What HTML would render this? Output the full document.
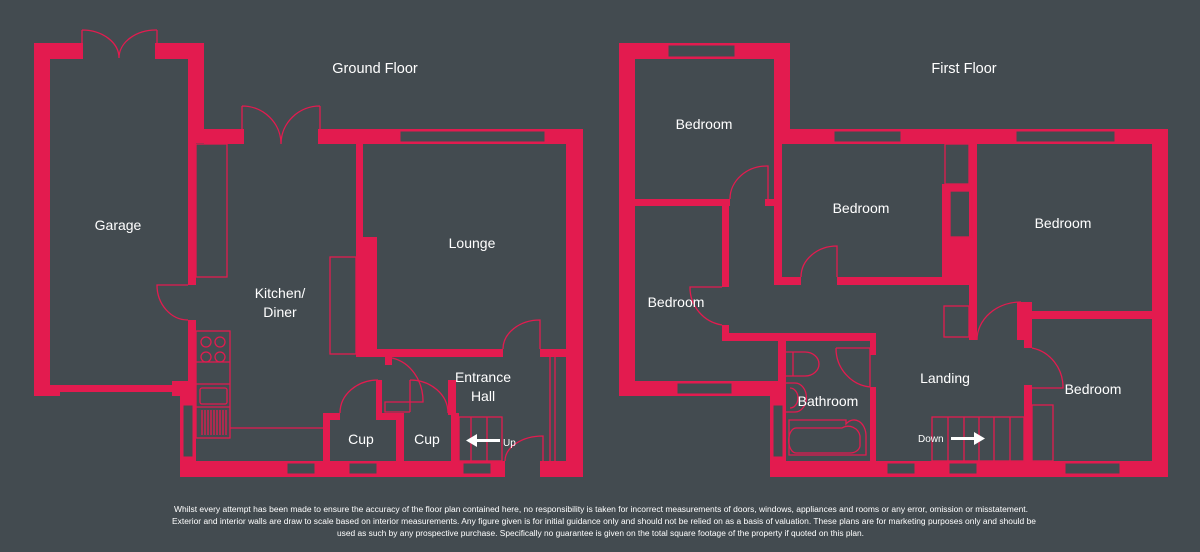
<!DOCTYPE html>
<html><head><meta charset="utf-8"><style>
html,body{margin:0;padding:0;background:#434b50;}
svg{display:block}
text{font-family:"Liberation Sans",sans-serif;fill:#fff}
</style></head><body>
<svg width="1200" height="552" viewBox="0 0 1200 552" xmlns="http://www.w3.org/2000/svg">
<rect width="1200" height="552" fill="#434b50"/>
<g fill="#e31b4f">
<!-- GROUND FLOOR -->
<rect x="34" y="43" width="16" height="353"/>
<rect x="34" y="43" width="49" height="16"/>
<rect x="155" y="43" width="49" height="16"/>
<rect x="188" y="43" width="16" height="100"/>
<rect x="188" y="129" width="8" height="156"/>
<rect x="188" y="320" width="8" height="72"/>
<rect x="34" y="385" width="162" height="7"/>
<rect x="34" y="385" width="26" height="11"/>
<rect x="172" y="381" width="24" height="15"/>
<rect x="180" y="385" width="16" height="92"/>
<rect x="204" y="129" width="40" height="15"/>
<rect x="318" y="129" width="265" height="15"/>
<rect x="566" y="129" width="17" height="348"/>
<rect x="180" y="461" width="325" height="16"/>
<rect x="540" y="461" width="43" height="16"/>
<rect x="356" y="144" width="7" height="213"/>
<rect x="356" y="237" width="21" height="120"/>
<rect x="356" y="349" width="147" height="8"/>
<rect x="540" y="349" width="43" height="8"/>
<rect x="385" y="357" width="7" height="8"/>
<rect x="323" y="413" width="7" height="48"/>
<rect x="323" y="413" width="17" height="7"/>
<rect x="376" y="380" width="6" height="40"/>
<rect x="376" y="413" width="20" height="7"/>
<rect x="396" y="413" width="8" height="48"/>
<rect x="451" y="413" width="8" height="48"/>
<rect x="448" y="380" width="8" height="35"/>
<!-- FIRST FLOOR -->
<rect x="619" y="43" width="16" height="353"/>
<rect x="619" y="43" width="171" height="16"/>
<rect x="774" y="43" width="16" height="101"/>
<rect x="774" y="129" width="394" height="15"/>
<rect x="1152" y="129" width="16" height="348"/>
<rect x="770" y="461" width="398" height="16"/>
<rect x="619" y="381" width="167" height="15"/>
<rect x="770" y="381" width="16" height="96"/>
<rect x="774" y="144" width="8" height="141"/>
<rect x="635" y="199" width="95" height="7"/>
<rect x="765" y="199" width="17" height="7"/>
<rect x="722" y="199" width="7" height="88"/>
<rect x="722" y="325" width="7" height="16"/>
<rect x="722" y="333" width="154" height="8"/>
<rect x="778" y="333" width="8" height="144"/>
<rect x="870" y="333" width="6" height="22"/>
<rect x="870" y="387" width="6" height="90"/>
<rect x="774" y="277" width="27" height="8"/>
<rect x="837" y="277" width="132" height="8"/>
<rect x="942" y="184" width="8" height="93"/>
<rect x="942" y="184" width="30" height="7"/>
<rect x="942" y="237" width="35" height="48"/>
<rect x="969" y="144" width="8" height="196"/>
<rect x="1024" y="311" width="128" height="8"/>
<rect x="1017" y="302" width="15" height="38"/>
<rect x="1024" y="311" width="8" height="37"/>
<rect x="1024" y="385" width="8" height="92"/>
</g>
<!-- windows -->
<g fill="#434b50" stroke="#e31b4f" stroke-width="1">
<rect x="400" y="131" width="145" height="11"/>
<rect x="287" y="463" width="28" height="11"/>
<rect x="349" y="463" width="28" height="11"/>
<rect x="463" y="463" width="28" height="11"/>
<rect x="183" y="405" width="10" height="52"/>
<rect x="668" y="45" width="67" height="12"/>
<rect x="834" y="131" width="67" height="11"/>
<rect x="1016" y="131" width="99" height="11"/>
<rect x="677" y="383" width="55" height="11"/>
<rect x="887" y="463" width="28" height="11"/>
<rect x="949" y="463" width="28" height="11"/>
<rect x="1065" y="463" width="55" height="11"/>
<rect x="773" y="405" width="10" height="52"/>
</g>
<!-- thin lines -->
<g fill="none" stroke="#e31b4f" stroke-width="1.3">
<path d="M82 30 V58 M157 30 V58 M82 30 A37 28 0 0 1 119 58 M157 30 A37 28 0 0 0 119 58"/>
<path d="M242 106 V130 M320 106 V130 M242 106 A39 38 0 0 1 281 144 M320 106 A39 38 0 0 0 281 144"/>
<path d="M188 285 H157 A31 35 0 0 0 188 320"/>
<rect x="196" y="144" width="31" height="133"/>
<rect x="330" y="257" width="26" height="97"/>
<path d="M540 349 V320 A37 29 0 0 0 503 349"/>
<path d="M550 357 V461 M555 357 V461"/>
<path d="M392 358 A38 44 0 0 1 423 402 H385 V412 H410"/>
<path d="M378 380 A38 33 0 0 0 340 413"/>
<path d="M410 380 A38 33 0 0 1 448 413"/>
<path d="M410 380 V412"/>
<rect x="459" y="417" width="43" height="44"/>
<path d="M471 417 V461 M487 417 V461"/>
<path d="M505 461 A38 25 0 0 1 543 436 V461"/>
<path d="M230 428 H323"/>
<rect x="196" y="331" width="34" height="107"/>
<path d="M196 362 H230 M196 384 H230 M196 407 H230"/>
<circle cx="206" cy="342" r="5"/><circle cx="220" cy="342" r="5"/>
<circle cx="206" cy="357" r="5"/><circle cx="220" cy="357" r="5"/>
<rect x="200" y="388" width="27" height="16" rx="2"/>
<path d="M202 410 V435 M205 410 V435 M208 410 V435 M211 410 V435 M214 410 V435 M217 410 V435 M220 410 V435 M223 410 V435 M226 410 V435"/>
<!-- first floor thin -->
<path d="M768 199 V166 A37 33 0 0 0 730 199"/>
<path d="M722 287 H690 A38 38 0 0 0 722 325"/>
<path d="M837 277 V246 A36 31 0 0 0 801 277"/>
<rect x="945" y="144" width="24" height="40"/>
<rect x="950" y="191" width="22" height="46"/>
<rect x="944" y="306" width="25" height="31"/>
<path d="M1021 302 A44 38 0 0 0 977 340"/>
<path d="M1032 348 A38 40 0 0 1 1063 388 H1032"/>
<rect x="1032" y="405" width="21" height="56"/>
<path d="M836 348 H870 V387 A38 39 0 0 1 836 348"/>
<rect x="932" y="417" width="92" height="44"/>
<path d="M948 417 V461 M964 417 V461 M979 417 V461 M994 417 V461 M1010 417 V461"/>
<path d="M786 352 H805 A14 12 0 0 1 805 376 H786 M793 352 V376"/>
<path d="M786 383 H795 A11 14 0 0 1 795 412 H786 M790 388 A8 10 0 0 1 790 408"/>
<path d="M789 420 V455 H866 V436 A12 16 0 0 0 846 424 V420 Z"/>
<path d="M796 428 H842 A12 12 0 0 1 860 436 V446 A10 8 0 0 1 850 453 H796 A7 12 0 0 1 796 428 Z"/>
</g>
<!-- arrows -->
<g fill="#fff">
<rect x="476" y="439" width="24" height="3"/>
<path d="M466 440.5 L477 434 V447 Z"/>
<rect x="951" y="437" width="24" height="3"/>
<path d="M985 438.5 L974 432 V445 Z"/>
</g>
<g font-size="14" text-anchor="middle">
<text x="375" y="73" font-size="14.5">Ground Floor</text>
<text x="964" y="73" font-size="14.5">First Floor</text>
<text x="118" y="230">Garage</text>
<text x="280" y="298">Kitchen/</text>
<text x="280" y="317">Diner</text>
<text x="472" y="248">Lounge</text>
<text x="483" y="382">Entrance</text>
<text x="483" y="401">Hall</text>
<text x="361" y="444">Cup</text>
<text x="427" y="444">Cup</text>
<text x="704" y="129">Bedroom</text>
<text x="676" y="307">Bedroom</text>
<text x="861" y="213">Bedroom</text>
<text x="1063" y="228">Bedroom</text>
<text x="1093" y="394">Bedroom</text>
<text x="828" y="406">Bathroom</text>
<text x="945" y="383">Landing</text>
</g>
<text x="503" y="446" font-size="10">Up</text>
<text x="918" y="442" font-size="10">Down</text>
<g font-size="8">
<text x="174" y="512" textLength="854" lengthAdjust="spacingAndGlyphs">Whilst every attempt has been made to ensure the accuracy of the floor plan contained here, no responsibility is taken for incorrect measurements of doors, windows, appliances and rooms or any error, omission or misstatement.</text>
<text x="172" y="524" textLength="864" lengthAdjust="spacingAndGlyphs">Exterior and interior walls are draw to scale based on interior measurements. Any figure given is for initial guidance only and should not be relied on as a basis of valuation. These plans are for marketing purposes only and should be</text>
<text x="337" y="536" textLength="527" lengthAdjust="spacingAndGlyphs">used as such by any prospective purchase. Specifically no guarantee is given on the total square footage of the property if quoted on this plan.</text>
</g>
</svg>
</body></html>
